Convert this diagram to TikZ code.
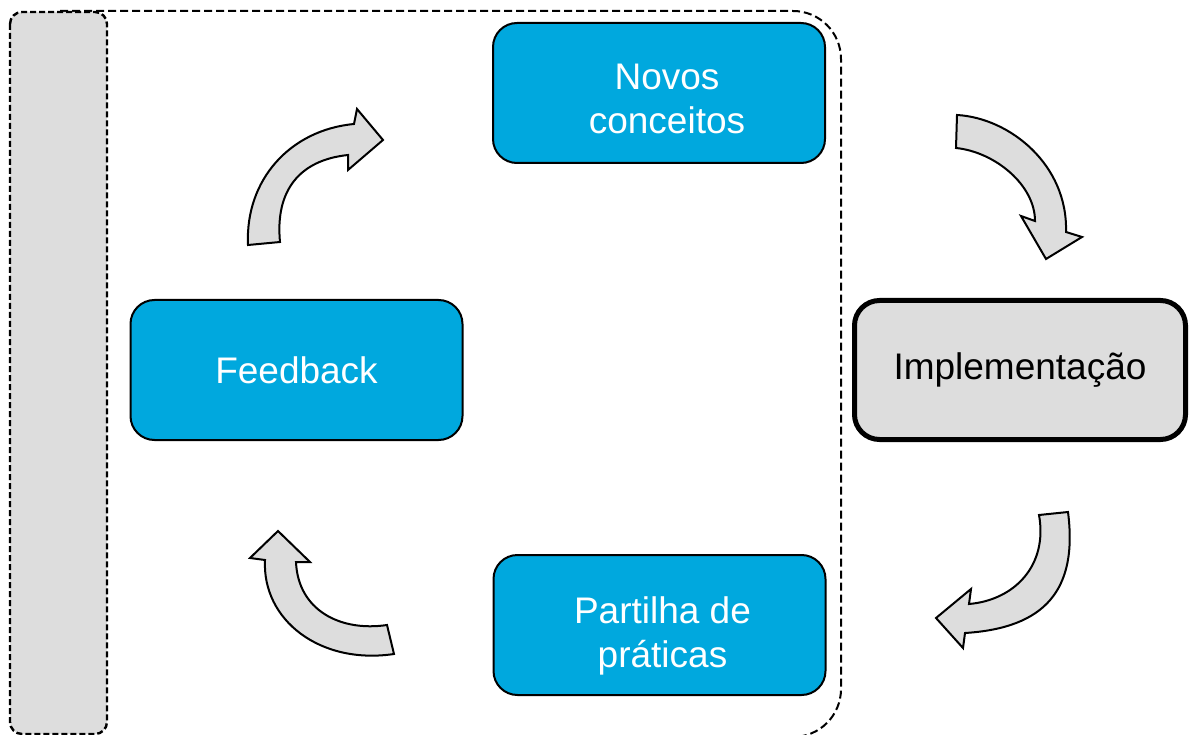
\documentclass[tikz,border=0pt]{standalone}
\usepackage{fontspec}
\setmainfont{Liberation Sans}
\definecolor{boxblue}{RGB}{0,168,222}
\definecolor{lightgray}{RGB}{221,221,221}
\tikzset{
  bluebox/.style={draw=black, line width=2pt, fill=boxblue, rounded corners=24pt,
    text=white, align=center, font=\fontsize{37}{45}\selectfont,
    minimum width=332pt, minimum height=140pt, inner sep=0pt},
  boxtext/.style={text=white, align=center, font=\fontsize{37}{44}\selectfont, inner sep=0pt},
  implbox/.style={draw=black, line width=5pt, fill=lightgray, rounded corners=25pt,
    text=black, align=center, font=\fontsize{37}{45}\selectfont,
    minimum width=331pt, minimum height=139pt, inner sep=0pt},
  blockarrow/.style={draw=black, line width=2pt, fill=lightgray, line join=miter},
  dashline/.style={draw=black, line width=2pt, dash pattern=on 8pt off 4pt},
  bardash/.style={draw=black, line width=2.4pt, dash pattern=on 6pt off 3pt},
}
\begin{document}
\begin{tikzpicture}[x=1pt, y=-1pt]
\useasboundingbox (0,0) rectangle (1194,735);
\fill[white] (0,0) rectangle (1194,735);
% big dashed outline
\draw[dashline, rounded corners=48pt] (60,11) -- (841,11) -- (841,737) -- (700,737);
% gray side bar
\draw[bardash, fill=lightgray, rounded corners=12pt] (10,12) rectangle (107,734);
% nodes
\node[bluebox] (novos) at (659,93) {};
\node[boxtext] (novostext) at ([xshift=8pt,yshift=-6pt]novos.center) {Novos\\conceitos};
\node[bluebox] (feed) at (296.5,370) {Feedback};
\node[bluebox] (part) at (659.5,625) {};
\node[boxtext] (parttext) at ([xshift=3pt,yshift=-11pt]part.center) {Partilha de\\práticas};
\node[implbox] (impl) at (1020,370) {Implementação};
% curved block arrows
% Feedback -> Novos conceitos
\draw[blockarrow] (248,245) .. controls (245,180) and (290,130) .. (354,124)
  -- (357,109) -- (383,140) -- (348,170) -- (348,155)
  .. controls (300,160) and (275,190) .. (280,242) -- cycle;
% Novos conceitos -> Implementacao
\draw[blockarrow] (957,115) .. controls (1010,118) and (1068,165) .. (1066,232)
  -- (1082,237) -- (1046,259) -- (1021,216) -- (1035,221)
  .. controls (1035,185) and (995,152) .. (956,148) -- cycle;
% Implementacao -> Partilha
\draw[blockarrow] (1068,512) .. controls (1078,590) and (1045,628) .. (965,633)
  -- (963,648) -- (936,618) -- (971,589) -- (969,604)
  .. controls (1015,600) and (1048,565) .. (1039,515) -- cycle;
% Partilha -> Feedback
\draw[blockarrow] (394,654) .. controls (320,665) and (262,620) .. (265,560)
  -- (250,558) -- (278,531) -- (310,562) -- (296,562)
  .. controls (298,610) and (340,632) .. (387,625) -- cycle;
\end{tikzpicture}
\end{document}
